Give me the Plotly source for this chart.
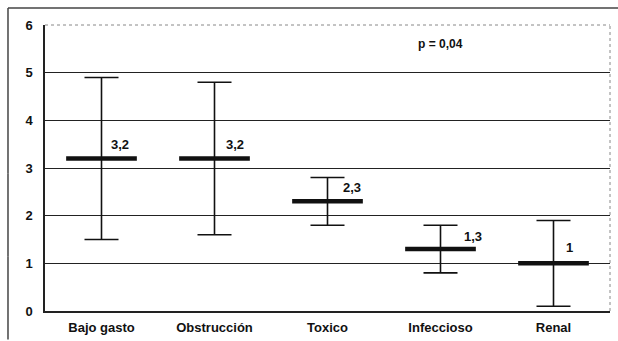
import plotly.graph_objects as go

categories = ["Bajo gasto", "Obstrucción", "Toxico", "Infeccioso", "Renal"]
means = [3.2, 3.2, 2.3, 1.3, 1.0]
upper = [4.9, 4.8, 2.8, 1.8, 1.9]
lower = [1.5, 1.6, 1.8, 0.8, 0.1]
mean_labels = ["3,2", "3,2", "2,3", "1,3", "1"]
p_text = "p = 0,04"

# label placement (pixels, styling only)
label_dx = [7, 9, 13, 21, 10]
label_dy = [14, 14, 14, 13, 16]

font_family = "Liberation Sans, Arial, sans-serif"

fig = go.Figure()
fig.add_trace(go.Scatter(
    x=categories, y=means, mode="markers",
    marker=dict(symbol="line-ew-open", size=50.5, color="#111",
                line=dict(width=4.5, color="#111")),
    error_y=dict(type="data", symmetric=False,
                 array=[u - m for u, m in zip(upper, means)],
                 arrayminus=[m - l for m, l in zip(means, lower)],
                 color="#111", thickness=1.6, width=17),
    hoverinfo="skip", showlegend=False,
))

for c, m, t, dx, dy in zip(categories, means, mean_labels, label_dx, label_dy):
    fig.add_annotation(text="<b>" + t + "</b>", x=c, y=m, xref="x", yref="y",
                       xanchor="left", yanchor="middle", xshift=dx, yshift=dy,
                       showarrow=False, font=dict(family=font_family, size=13, color="#111"))

fig.add_annotation(text="<b>" + p_text + "</b>", x=3, y=5.6, xref="x", yref="y",
                   showarrow=False, font=dict(family=font_family, size=12, color="#111"))

shapes = [
    dict(type="line", xref="paper", yref="paper", x0=0, x1=1, y0=1, y1=1,
         line=dict(color="#888", width=1, dash="dot")),
    dict(type="line", xref="paper", yref="paper", x0=1, x1=1, y0=0, y1=1,
         line=dict(color="#888", width=1, dash="dot")),
]
# outer frame (top and left edges) drawn in short segments
fx0, fx1, fy_top, fy_bot = -0.0655, 1.0142, 1.0594, -0.1
nx, ny = 5, 4
for i in range(nx):
    a = fx0 + (fx1 - fx0) * i / nx
    b = fx0 + (fx1 - fx0) * (i + 1) / nx
    shapes.append(dict(type="line", xref="paper", yref="paper", x0=a, x1=b,
                       y0=fy_top, y1=fy_top, line=dict(color="#444", width=1.5)))
for i in range(ny):
    a = fy_top + (fy_bot - fy_top) * i / ny
    b = fy_top + (fy_bot - fy_top) * (i + 1) / ny
    shapes.append(dict(type="line", xref="paper", yref="paper", x0=fx0, x1=fx0,
                       y0=a, y1=b, line=dict(color="#444", width=1.5)))

fig.update_layout(
    width=618, height=341,
    margin=dict(l=45, r=8, t=25, b=30, autoexpand=False),
    paper_bgcolor="white", plot_bgcolor="white",
    font=dict(family=font_family, size=13, color="#111"),
    xaxis=dict(type="category", range=[-0.5, 4.5], showgrid=False,
               showline=True, linecolor="#222", linewidth=1.5, mirror=False,
               ticks="", tickvals=categories,
               ticktext=["<b>" + c + "</b>" for c in categories],
               tickfont=dict(family=font_family, size=13, color="#111"),
               ticklabelstandoff=4),
    yaxis=dict(range=[0, 6], dtick=1, showgrid=True, gridcolor="#222", gridwidth=1,
               showline=True, linecolor="#222", linewidth=1.5, zeroline=False,
               ticks="", tickvals=[0, 1, 2, 3, 4, 5, 6],
               ticktext=["<b>%d</b>" % v for v in range(7)],
               tickfont=dict(family=font_family, size=13, color="#111"),
               ticklabelstandoff=8),
    shapes=shapes,
)
fig.write_html("out.html", config={"displayModeBar": False},
               post_script="document.body.style.margin='0px';")
